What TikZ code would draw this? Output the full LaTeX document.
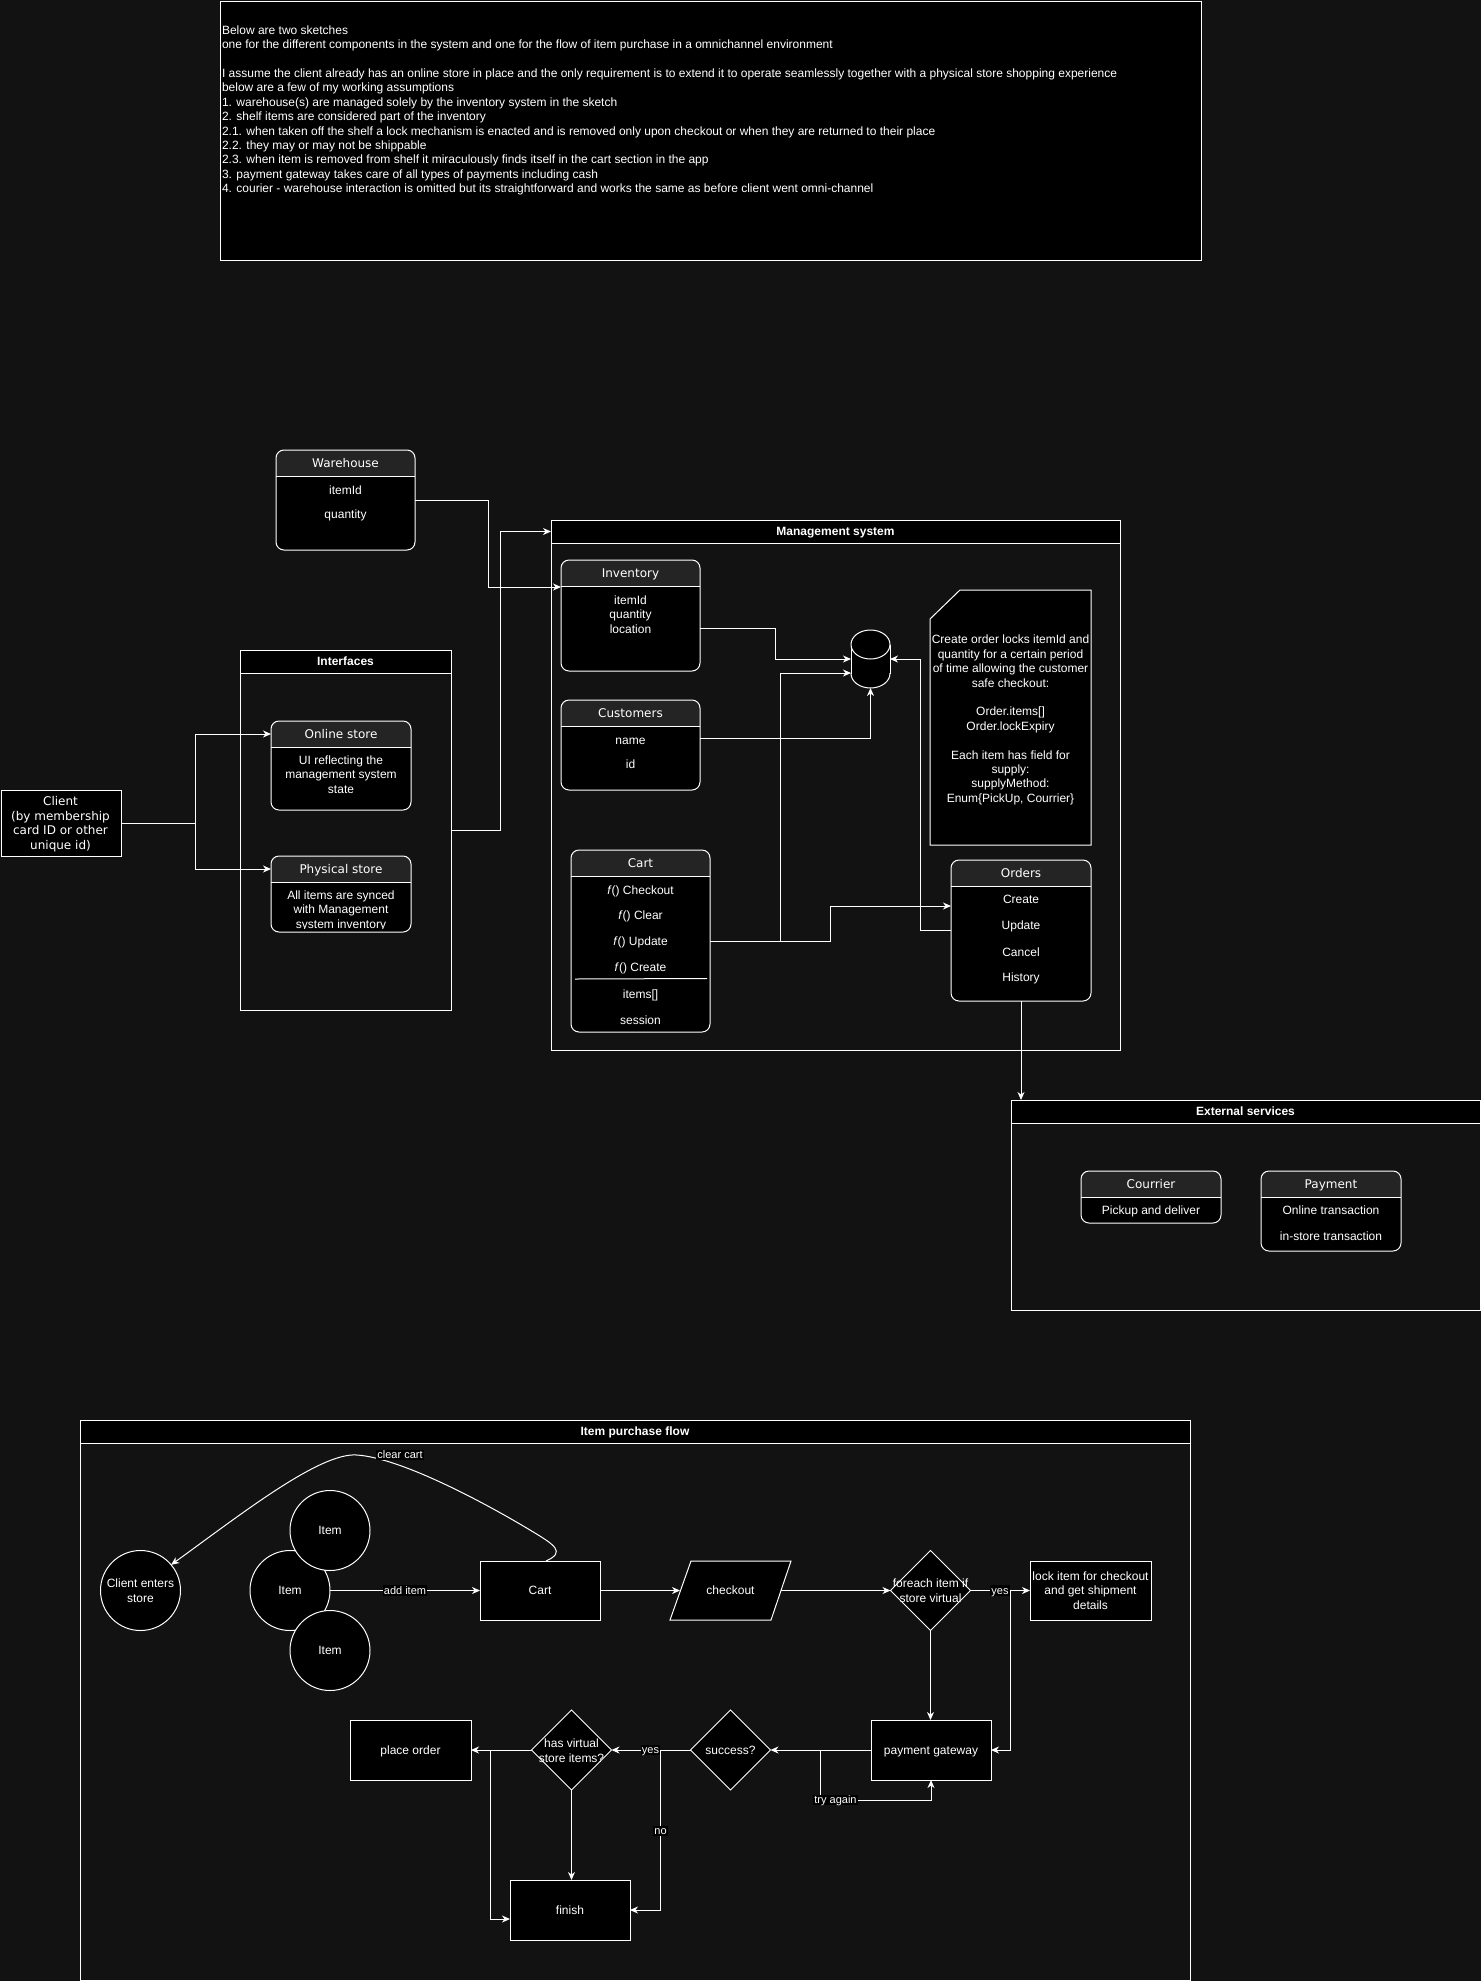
\documentclass[tikz,border=0pt]{standalone}
\usepackage{fontspec}
\setmainfont{Liberation Sans}
\newfontfamily\dvs{DejaVu Sans}
\usetikzlibrary{shapes.geometric,arrows.meta,calc}
\definecolor{bg}{HTML}{121212}
\definecolor{hdr}{HTML}{242424}
\tikzset{
  wline/.style={draw=white, line width=1pt},
  arr/.style={wline, -{Stealth[length=8pt,width=7pt,inset=2.5pt]}},
  txt/.style={inner sep=0pt, outer sep=0pt, text=white, font=\fontsize{12}{14.4}\selectfont, text height=8.6pt, text depth=0pt},
  htxt/.style={txt, font=\dvs\fontsize{12}{14.4}\selectfont},
  btxt/.style={txt, font=\bfseries\fontsize{12}{14.4}\selectfont},
  lbl/.style={txt, font=\fontsize{11}{13}\selectfont, text height=7.9pt, fill=black, inner xsep=1pt, inner ysep=1.5pt},
  clsn/.style={draw=none, fill=black, rounded corners=8pt, inner sep=0pt, outer sep=0pt},
  hdrn/.style={draw=none, inner sep=0pt, outer sep=0pt, minimum height=26pt},
  contn/.style={draw=white, line width=1pt, inner sep=0pt, outer sep=0pt},
  conth/.style={btxt, draw=white, fill=black, line width=1pt, minimum height=23pt},
  circ/.style={txt, circle, draw=white, fill=black, line width=1pt, minimum size=80pt},
  fbox/.style={txt, draw=white, fill=black, line width=1pt, minimum height=59pt},
  dia/.style={diamond, draw=white, fill=black, line width=1pt, minimum width=80pt, minimum height=80pt, inner sep=0pt, outer sep=0pt},
}
\newcommand{\clsbox}[6]{%
  \node[clsn, minimum width={(#4-#2)*1pt}, minimum height={(#5-#3)*1pt}] (#1) at ({(#2+#4)/2},{(#3+#5)/2}) {};
  \node[hdrn, minimum width={(#4-#2)*1pt}] (#1h) at ({(#2+#4)/2},{#3+13}) {};
  \begin{scope}
    \clip[rounded corners=8pt] (#1.north west) rectangle (#1.south east);
    \fill[hdr] (#1.north west) rectangle (#1h.south east);
  \end{scope}
  \draw[wline, rounded corners=8pt] (#1.north west) rectangle (#1.south east);
  \draw[wline] (#1h.south west) -- (#1h.south east);
  \node[htxt] (#1t) at (#1h.center) {#6};
}
\newcommand{\contbox}[6]{%
  \node[contn, minimum width={(#4-#2)*1pt}, minimum height={(#5-#3)*1pt}] (#1) at ({(#2+#4)/2},{(#3+#5)/2}) {};
  \node[conth, minimum width={(#4-#2)*1pt}] (#1h) at ({(#2+#4)/2},{#3+11.5}) {#6};
}
\begin{document}
\begin{tikzpicture}[x=1pt,y=-1pt]
\useasboundingbox (0,0) rectangle (1481,1981);
\fill[bg] (0,0) rectangle (1481,1981);

% ---------- intro text ----------
\node[draw=white, fill=black, line width=1pt, inner sep=0pt, minimum width=981pt, minimum height=259pt] (intro) at (710.5,130.5) {};
\foreach \yy/\t [count=\i] in {
  30/{Below are two sketches},
  44.4/{one for the different components in the system and one for the flow of item purchase in a omnichannel environment},
  73.2/{I assume the client already has an online store in place and the only requirement is to extend it to operate seamlessly together with a physical store shopping experience},
  87.6/{below are a few of my working assumptions},
  102/{1. warehouse(s) are managed solely by the inventory system in the sketch},
  116.4/{2. shelf items are considered part of the inventory},
  130.8/{2.1. when taken off the shelf a lock mechanism is enacted and is removed only upon checkout or when they are returned to their place},
  145.2/{2.2. they may or may not be shippable},
  159.6/{2.3. when item is removed from shelf it miraculously finds itself in the cart section in the app},
  174/{3. payment gateway takes care of all types of payments including cash},
  188.4/{4. courier - warehouse interaction is omitted but its straightforward and works the same as before client went omni-channel}}
  \node[txt, anchor=west] (intro\i) at (222,\yy) {\t};

% ---------- containers ----------
\contbox{intf}{240}{650}{451}{1010}{Interfaces}
\contbox{mgmt}{551}{520}{1120}{1050}{Management system}
\contbox{ext}{1011}{1100}{1480}{1310}{External services}

% ---------- warehouse ----------
\clsbox{wh}{276}{450}{415}{550}{Warehouse}
\node[txt] (wh1) at (345.5,490) {itemId};
\node[txt] (wh2) at (345.5,514) {quantity};

% ---------- client ----------
\node[draw=white, fill=black, line width=1pt, inner sep=0pt, minimum width=120pt, minimum height=66pt] (cli) at (61,823) {};
\node[htxt] (cli1) at (60.5,801.2) {Client};
\node[htxt] (cli2) at (60.5,815.8) {(by membership};
\node[htxt] (cli3) at (60.5,830.3) {card ID or other};
\node[htxt] (cli4) at (60.5,844.9) {unique id)};

% ---------- interfaces ----------
\clsbox{onl}{271}{721}{411}{810}{Online store}
\node[txt] (onl1) at (341,760) {UI reflecting the};
\node[txt] (onl2) at (341,774.4) {management system};
\node[txt] (onl3) at (341,788.8) {state};
\clsbox{phy}{271}{856}{411}{932}{Physical store}
\begin{scope}
  \clip (271,882) rectangle (411,928.3);
  \node[txt] (phy1) at (341,895) {All items are synced};
  \node[txt] (phy2) at (341,909.4) {with Management};
  \node[txt] (phy3) at (341,923.8) {system inventory};
\end{scope}

% ---------- management system ----------
\clsbox{inv}{561}{560}{700}{671}{Inventory}
\node[txt] (inv1) at (630.5,600) {itemId};
\node[txt] (inv2) at (630.5,614.4) {quantity};
\node[txt] (inv3) at (630.5,628.8) {location};

\clsbox{cus}{561}{700}{700}{790}{Customers}
\node[txt] (cus1) at (630.5,740) {name};
\node[txt] (cus2) at (630.5,764) {id};

\clsbox{cart}{571}{850}{710}{1032}{Cart}
\node[txt] (cart1) at (640.5,889.7) {\textit{f}() Checkout};
\node[txt] (cart2) at (640.5,915.5) {\textit{f}() Clear};
\node[txt] (cart3) at (640.5,941.3) {\textit{f}() Update};
\node[txt] (cart4) at (640.5,967.5) {\textit{f}() Create};
\draw[wline] ([xshift=4pt,yshift=-129pt]cart.north west) -- ([xshift=-3pt,yshift=-128.5pt]cart.north east);
\node[txt] (cart5) at (640.5,993.7) {items[]};
\node[txt] (cart6) at (640.5,1019.8) {session};

\clsbox{ord}{951}{860}{1091}{1001}{Orders}
\node[txt] (ord1) at (1021,899.6) {Create};
\node[txt] (ord2) at (1021,925.5) {Update};
\node[txt] (ord3) at (1021,951.7) {Cancel};
\node[txt] (ord4) at (1021,977.5) {History};

% note
\node[inner sep=0pt, outer sep=0pt, minimum width=161pt, minimum height=255pt] (note) at (1010.5,717.5) {};
\draw[wline, fill=black] ([yshift=-29pt]note.north west) -- ([xshift=30pt]note.north west) -- (note.north east) -- (note.south east) -- (note.south west) -- cycle;
\foreach \yy/\t [count=\i] in {
  639.5/{Create order locks itemId and},
  653.9/{quantity for a certain period},
  668.3/{of time allowing the customer},
  682.7/{safe checkout:},
  711.5/{Order.items[]},
  725.9/{Order.lockExpiry},
  754.7/{Each item has field for},
  769.1/{supply:},
  783.5/{supplyMethod:},
  797.9/{Enum\{PickUp, Courrier\}}}
  \node[txt] (note\i) at (1010.5,\yy) {\t};

% database cylinder
\node[inner sep=0pt, outer sep=0pt, minimum width=39pt, minimum height=58pt] (db) at (870.5,659) {};
\fill[black] (870.5,673.5) ellipse [x radius=19.5pt, y radius=14.5pt];
\fill[black] (851,644.5) rectangle (890,673.5);
\begin{scope}
  \clip (845,673.5) rectangle (896,695);
  \draw[wline] (870.5,673.5) ellipse [x radius=19.5pt, y radius=14.5pt];
\end{scope}
\draw[wline] (851,644.5) -- (851,673.5);
\draw[wline] (890,644.5) -- (890,673.5);
\draw[wline, fill=black] (870.5,644.5) ellipse [x radius=19.5pt, y radius=14.5pt];

% ---------- external services ----------
\clsbox{cou}{1081}{1171}{1221}{1223}{Courrier}
\node[txt] (cou1) at (1151,1210) {Pickup and deliver};
\clsbox{pay}{1261}{1171}{1401}{1251}{Payment}
\node[txt] (pay1) at (1331,1210) {Online transaction};
\node[txt] (pay2) at (1331,1236) {in-store transaction};

% ---------- component connectors ----------
\draw[arr] (wh.east) -- ++(73,0) |- ([yshift=-27pt]inv.north west);
\draw[arr] (intf.east) -- ++(49,0) |- (mgmth.west);
\draw[wline] (cli.east) -- ++(74,0) coordinate (cj);
\draw[arr] (cj) |- (onlh.west);
\draw[arr] (cj) |- (phyh.west);
\draw[arr] ([yshift=-12.5pt]inv.east) -- ++(75,0) |- (db.west);
\draw[arr] ([yshift=7pt]cus.east) -| (db.south);
\draw[arr] (cart.east) -- ++(70,0) |- ([yshift=-14pt]db.west);
\draw[arr] (cart.east) -- ++(120,0) |- ([yshift=24.5pt]ord.west);
\draw[arr] (ord.west) -- ++(-31,0) |- (db.east);
\draw[arr] (ord.south) -- (ord.south |- exth.north);

% ---------- item purchase flow ----------
\contbox{flow}{80}{1420}{1190}{1980}{Item purchase flow}

\node[circ] (ces) at (140.5,1590.5) {};
\node[txt] (ces1) at (140.5,1582.7) {Client enters};
\node[txt] (ces2) at (140.5,1597.7) {store};
\node[circ] (it2) at (290,1590.5) {Item};
\node[circ] (it1) at (330,1530.5) {Item};
\node[circ] (it3) at (330,1650.5) {Item};

\node[fbox, minimum width=120pt] (fcart) at (540,1590.5) {Cart};
\draw[wline, fill=black] (691,1561) -- (791,1561) -- (771,1620) -- (670,1620) -- cycle;
\node[txt, minimum width=101pt, minimum height=59pt] (chk) at (730.5,1590.5) {checkout};

\node[dia] (fe) at (930.5,1590.5) {};
\node[txt] (fe1) at (930.5,1583.2) {foreach item if};
\node[txt] (fe2) at (930.5,1598.2) {store virtual};

\node[fbox, minimum width=121pt] (lock) at (1090.5,1590.5) {};
\node[txt] (lock1) at (1090.5,1576) {lock item for checkout};
\node[txt] (lock2) at (1090.5,1590.5) {and get shipment};
\node[txt] (lock3) at (1090.5,1605) {details};

\node[fbox, minimum width=120pt, minimum height=60pt] (pg) at (931,1750) {payment gateway};
\node[dia] (suc) at (730.5,1750) {};
\node[txt] (suct) at (730.5,1750) {success?};
\node[dia] (hv) at (571.5,1750) {};
\node[txt] (hv1) at (571.5,1742.7) {has virtual};
\node[txt] (hv2) at (571.5,1757.7) {store items?};
\node[fbox, minimum width=121pt, minimum height=60pt] (po) at (410.5,1750) {place order};
\node[fbox, minimum width=120pt, minimum height=60pt] (fin) at (570,1910) {finish};

% flow connectors
\draw[arr] ([xshift=6pt]fcart.north) .. controls (566,1552) and (555,1545) .. (530,1530)
  .. controls (480,1500) and (400,1458) .. (357,1455)
  .. controls (320,1452) and (240,1515) .. (ces.40);
\node[lbl] (lcc) at (400,1455) {clear cart};
\draw[arr] (it2.east) -- (fcart.west);
\node[lbl] (lai) at (405,1590.5) {add item};
\draw[arr] (fcart.east) -- (chk.west);
\draw[arr] (chk.east) -- (fe.west);
\draw[arr] (fe.east) -- (lock.west);
\draw[arr] ($(fe.east)+(40,0)$) |- (pg.east);
\node[lbl] (ly1) at (1000,1590.5) {yes};
\draw[arr] (fe.south) -- (fe.south |- pg.north);
\draw[arr] (pg.west) -- (suc.east);
\draw[arr] ($(pg.west)+(-51,0)$) -- ++(0,50) -| (pg.south);
\node[lbl] (lta) at (835.5,1800) {try again};
\draw[arr] (suc.west) -- (hv.east);
\draw[arr] ($(suc.west)+(-30,0)$) |- (fin.east);
\node[lbl] (ly2) at (650.5,1750) {yes};
\node[lbl] (lno) at (660.5,1831) {no};
\draw[arr] (hv.west) -- (po.east);
\draw[arr] ($(po.east)+(19,0)$) |- ([yshift=-9pt]fin.west);
\draw[arr] (hv.south) -- (hv.south |- fin.north);
\end{tikzpicture}
\end{document}
